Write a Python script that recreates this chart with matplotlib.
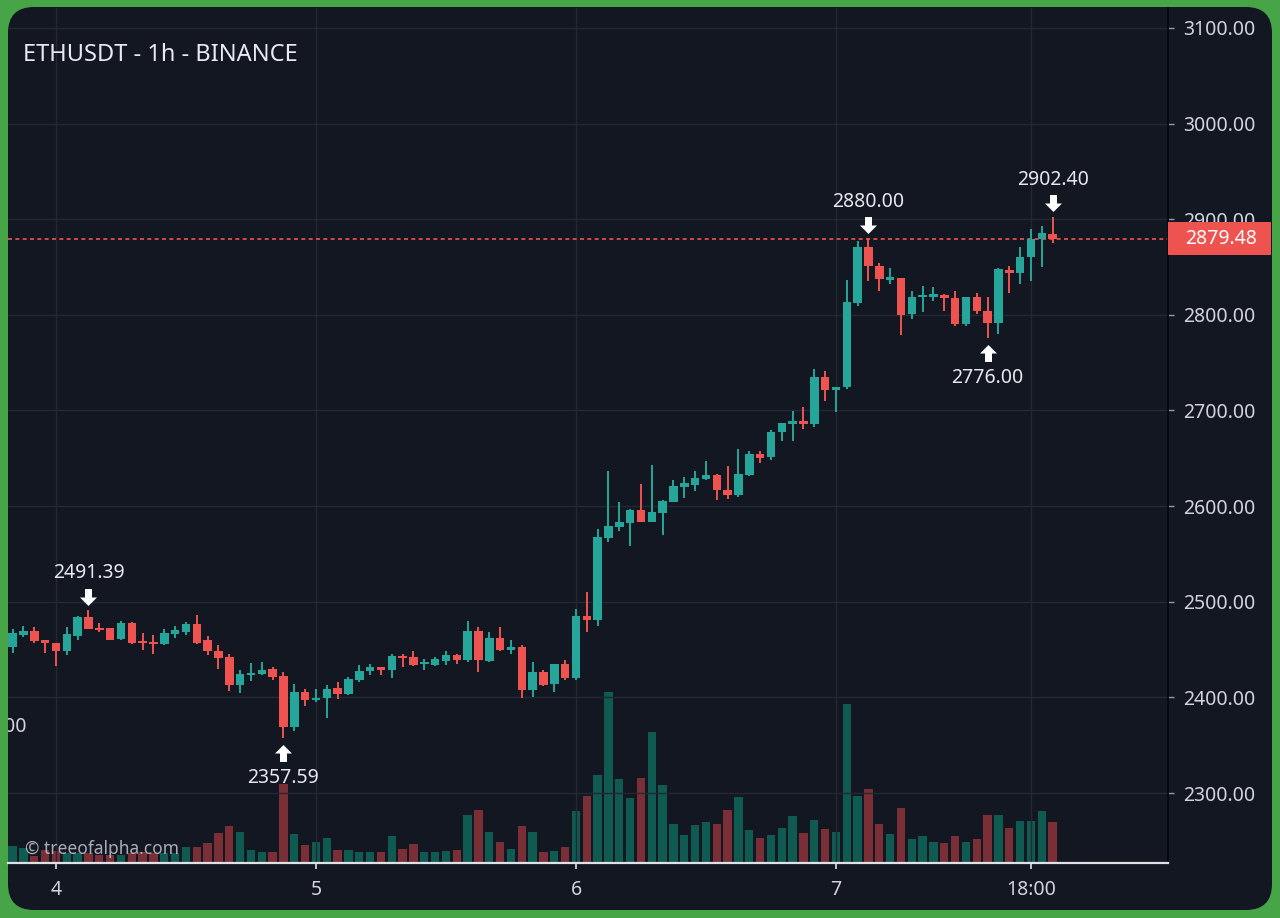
import matplotlib
matplotlib.use('Agg')
import matplotlib.pyplot as plt
import numpy as np
from matplotlib.patches import FancyBboxPatch, Rectangle
from matplotlib.path import Path
from matplotlib.transforms import offset_copy, blended_transform_factory

plt.rcParams['font.family'] = ['Noto Sans', 'DejaVu Sans']

# ETHUSDT 1h candles, first one is day 3 20:00 (hour -4 relative to day 4 00:00)
first_hour = -4
opens = [2452.3, 2465.1, 2469.3, 2459.6, 2456.8, 2448.4, 2463.7, 2483.9, 2472.5, 2472.2,
         2461.0, 2477.6, 2458.8, 2457.8, 2455.8, 2465.8, 2468.4, 2477.0, 2459.6, 2449.0,
         2442.1, 2412.5, 2423.3, 2424.0, 2429.3, 2421.9, 2369.0, 2405.5, 2396.9, 2399.7,
         2409.7, 2403.1, 2417.8, 2427.2, 2431.7, 2428.9, 2443.0, 2442.0, 2434.5, 2433.4,
         2438.0, 2443.9, 2438.7, 2469.3, 2437.9, 2462.0, 2449.5, 2452.6, 2407.3, 2426.4,
         2413.6, 2434.5, 2420.5, 2484.6, 2480.5, 2566.6, 2578.0, 2582.1, 2596.0, 2583.2,
         2592.3, 2604.0, 2620.5, 2622.6, 2628.5, 2633.0, 2616.7, 2612.0, 2633.0, 2655.0,
         2651.0, 2677.2, 2686.0, 2689.5, 2686.0, 2734.7, 2721.6, 2725.0, 2812.0, 2871.3,
         2851.5, 2836.4, 2838.2, 2800.8, 2818.3, 2819.0, 2821.1, 2817.6, 2790.4, 2819.0,
         2804.4, 2791.2, 2846.8, 2843.4, 2860.8, 2879.3, 2884.3]
highs = [2471.0, 2475.0, 2474.0, 2460.0, 2457.0, 2474.0, 2484.6, 2491.39, 2478.0, 2472.5,
         2479.7, 2478.6, 2467.2, 2464.8, 2471.7, 2475.0, 2478.7, 2485.7, 2463.7, 2454.3,
         2445.6, 2428.2, 2435.8, 2436.9, 2431.7, 2426.4, 2413.6, 2409.0, 2409.0, 2412.5,
         2416.0, 2421.0, 2433.4, 2434.5, 2432.0, 2445.6, 2445.6, 2448.4, 2440.0, 2442.5,
         2448.4, 2445.6, 2479.6, 2473.5, 2468.2, 2474.0, 2459.6, 2454.3, 2436.9, 2428.9,
         2434.5, 2439.3, 2492.6, 2510.0, 2576.0, 2637.2, 2604.0, 2597.0, 2623.0, 2643.5,
         2605.9, 2627.4, 2630.2, 2636.5, 2647.7, 2633.5, 2642.4, 2660.0, 2658.0, 2658.0,
         2680.0, 2687.0, 2699.9, 2703.4, 2743.2, 2740.9, 2725.0, 2836.4, 2876.8, 2880.0,
         2853.9, 2849.4, 2838.5, 2825.3, 2830.5, 2829.5, 2821.5, 2825.3, 2819.0, 2822.5,
         2819.0, 2848.5, 2851.4, 2871.3, 2889.5, 2893.0, 2902.4]
lows = [2446.0, 2462.7, 2456.4, 2446.0, 2432.4, 2443.9, 2460.0, 2471.4, 2468.0, 2459.6,
        2460.0, 2455.4, 2449.7, 2445.6, 2454.3, 2462.0, 2465.2, 2456.0, 2443.9, 2429.8,
        2406.6, 2404.5, 2417.0, 2423.0, 2418.5, 2357.59, 2364.8, 2390.6, 2395.0, 2378.8,
        2398.6, 2403.0, 2416.0, 2423.0, 2423.0, 2420.5, 2431.7, 2433.0, 2428.2, 2433.0,
        2433.4, 2435.0, 2437.0, 2426.4, 2437.0, 2449.0, 2444.9, 2399.7, 2400.3, 2411.5,
        2405.5, 2418.5, 2418.5, 2468.2, 2475.0, 2562.3, 2574.0, 2558.8, 2583.0, 2583.0,
        2570.3, 2604.0, 2608.8, 2616.3, 2627.4, 2606.0, 2607.4, 2610.0, 2631.0, 2645.5,
        2648.0, 2668.6, 2668.6, 2680.8, 2683.2, 2710.4, 2698.1, 2722.0, 2809.6, 2835.1,
        2824.6, 2832.0, 2778.6, 2795.6, 2803.4, 2814.1, 2804.4, 2788.7, 2788.7, 2800.8,
        2776.0, 2780.0, 2822.5, 2832.0, 2835.8, 2849.6, 2875.0]
closes = [2466.9, 2469.3, 2458.8, 2456.7, 2448.4, 2465.8, 2483.9, 2472.0, 2470.4, 2460.0,
          2477.6, 2456.7, 2456.7, 2456.0, 2467.2, 2470.0, 2477.0, 2456.7, 2449.0, 2441.4,
          2412.5, 2424.0, 2425.4, 2428.8, 2421.2, 2369.0, 2405.5, 2396.9, 2399.7, 2409.0,
          2403.1, 2419.5, 2427.5, 2431.7, 2428.9, 2442.8, 2441.0, 2433.4, 2436.9, 2440.4,
          2443.9, 2439.0, 2469.3, 2439.0, 2462.0, 2449.5, 2452.6, 2407.3, 2426.4, 2412.5,
          2434.5, 2420.5, 2484.6, 2481.0, 2567.5, 2578.7, 2583.2, 2596.0, 2583.2, 2593.6,
          2605.1, 2621.5, 2624.0, 2629.6, 2633.0, 2616.7, 2612.0, 2633.5, 2654.7, 2650.0,
          2677.2, 2686.6, 2689.5, 2686.0, 2734.7, 2721.6, 2725.0, 2813.1, 2871.3, 2851.5,
          2837.5, 2839.2, 2799.5, 2818.9, 2820.7, 2821.8, 2817.6, 2790.4, 2819.0, 2803.7,
          2791.2, 2848.0, 2843.4, 2860.1, 2879.3, 2885.2, 2879.48]
volumes = [16.7, 15.0, 6.7, 12.7, 11.7, 10.0, 10.0, 10.0, 8.3, 8.3,
           8.3, 10.0, 10.7, 10.0, 10.0, 10.0, 16.0, 16.0, 20.0, 30.0,
           36.7, 31.0, 12.7, 11.0, 11.0, 79.3, 29.3, 17.7, 21.0, 25.0,
           12.7, 12.7, 10.7, 10.7, 10.7, 26.7, 14.0, 19.0, 10.7, 11.3,
           12.3, 13.3, 48.3, 52.7, 31.0, 21.3, 14.0, 36.7, 31.0, 11.3,
           12.0, 15.7, 52.3, 66.7, 88.0, 171.0, 84.3, 64.7, 84.7, 130.7,
           78.0, 39.3, 27.7, 37.7, 41.0, 39.3, 52.7, 66.3, 32.7, 24.7,
           27.7, 34.7, 46.7, 30.3, 43.0, 34.0, 31.3, 159.0, 66.7, 74.0,
           39.3, 29.3, 55.0, 24.3, 27.0, 21.3, 20.3, 27.0, 21.3, 24.0,
           48.3, 48.3, 35.0, 42.3, 42.3, 52.3, 41.3]

last_price = 2879.48
marked_highs = [7, 79, 96]
marked_lows = [25, 90]

day_ticks = [0, 24, 48, 72, 90]
day_labels = ['4', '5', '6', '7', '18:00']
price_ticks = [2300, 2400, 2500, 2600, 2700, 2800, 2900, 3000, 3100]

UP = '#26a69a'
DOWN = '#ef5350'
UP_VOL = '#0f5a51'
DOWN_VOL = '#7a2f37'
BG = '#131722'
TXT = '#d1d4dc'
GRID = '#242833'

W, H = 1280, 918
fig = plt.figure(figsize=(W / 100, H / 100), dpi=100, facecolor='#47a548')

panel = FancyBboxPatch((0.08, 0.08), 12.64, 9.03,
                       boxstyle='round,pad=0,rounding_size=0.26',
                       transform=fig.dpi_scale_trans, fc=BG, ec='none', zorder=-10)
fig.add_artist(panel)

rect = [8 / W, 55 / H, 1160 / W, 855 / H]
xlim = (-4.43, 102.65)

o = np.array(opens)
h = np.array(highs)
l = np.array(lows)
c = np.array(closes)
x = np.arange(len(o)) + first_hour
up = c >= o

# volume panel
vax = fig.add_axes(rect, facecolor='none')
vax.bar(x, volumes, width=0.77, color=np.where(up, UP_VOL, DOWN_VOL), linewidth=0)
vax.set_xlim(*xlim)
vax.set_ylim(0, 855)
vax.axis('off')

# price panel
ax = fig.add_axes(rect, facecolor='none')
colors = np.where(up, UP, DOWN)
ax.vlines(x, l, h, colors=colors, linewidth=1.4, zorder=3)
body = np.maximum(np.abs(c - o), 1.2)
ax.bar(x, body, bottom=np.minimum(o, c), width=0.78, color=colors, linewidth=0, zorder=4)

ax.set_xlim(*xlim)
ax.set_ylim(2226.8, 3120.9)
ax.set_yticks(price_ticks)
ax.set_yticklabels([f'{p:.2f}' for p in price_ticks])
ax.yaxis.tick_right()
ax.set_xticks(day_ticks)
ax.set_xticklabels(day_labels)
ax.grid(True, color=GRID, linewidth=1)
ax.set_axisbelow(True)

for s in ['top', 'left']:
    ax.spines[s].set_visible(False)
ax.spines['right'].set_color('#06080c')
ax.spines['right'].set_linewidth(1.3)
ax.spines['bottom'].set_color('#dfe1e6')
ax.spines['bottom'].set_linewidth(1.6)
ax.tick_params(axis='y', labelsize=14, labelcolor=TXT, color='#9598a1',
               length=4.3, width=1, pad=6.5)
ax.tick_params(axis='x', labelsize=14, labelcolor=TXT, color='#dfe1e6',
               length=4.5, width=1.2, pad=8)

# last price line and label
ax.axhline(last_price, color=DOWN, linewidth=1.2, linestyle=(0, (2.4, 2.0)), zorder=2)
btr = blended_transform_factory(ax.transAxes, ax.transData)
ax.add_patch(Rectangle((1.0, last_price - 17.3), 0.089, 34.6, transform=btr,
                       fc=DOWN, ec='none', clip_on=False, zorder=6))
ax.text(1.0147, last_price, f'{last_price:.2f}', transform=btr, ha='left', va='center',
        fontsize=14, color='white', clip_on=False, zorder=7)

# high / low markers
down_arrow = Path([(-3.5, 8.5), (3.5, 8.5), (3.5, 0), (8.5, 0), (0, -8.5),
                   (-8.5, 0), (-3.5, 0), (-3.5, 8.5)])
up_arrow = Path([(vx, -vy) for vx, vy in down_arrow.vertices])
above = offset_copy(ax.transData, fig=fig, x=0, y=9.7, units='points')
below = offset_copy(ax.transData, fig=fig, x=0, y=-11.2, units='points')
for i in marked_highs:
    ax.plot(x[i], h[i], marker=down_arrow, ms=12.2, mew=0, color='white',
            transform=above, zorder=8)
    ax.annotate(f'{h[i]:.2f}', xy=(x[i], h[i]), xytext=(0, 26.5), textcoords='offset points',
                ha='center', va='center', fontsize=14, color='#e6e8ee', zorder=8)
for i in marked_lows:
    ax.plot(x[i], l[i], marker=up_arrow, ms=12.2, mew=0, color='white',
            transform=below, zorder=8)
    ax.annotate(f'{l[i]:.2f}', xy=(x[i], l[i]), xytext=(0, -29), textcoords='offset points',
                ha='center', va='center', fontsize=14, color='#e6e8ee', zorder=8)

# leftover label cut by the left edge
ax.text(-4 / 1160, 2369, '00', transform=btr, ha='left', va='center',
        fontsize=14, color=TXT, clip_on=True)

fig.text(23 / W, 1 - 55 / H, 'ETHUSDT - 1h - BINANCE', ha='left', va='center',
         fontsize=17, color='#e8eaf0')
fig.text(25 / W, 1 - 849 / H, '\u00a9 treeofalpha.com', ha='left', va='center',
         fontsize=12.5, color='#c4c7cf', alpha=0.85, zorder=10)

fig.savefig('out.png', dpi=100, facecolor=fig.get_facecolor())
